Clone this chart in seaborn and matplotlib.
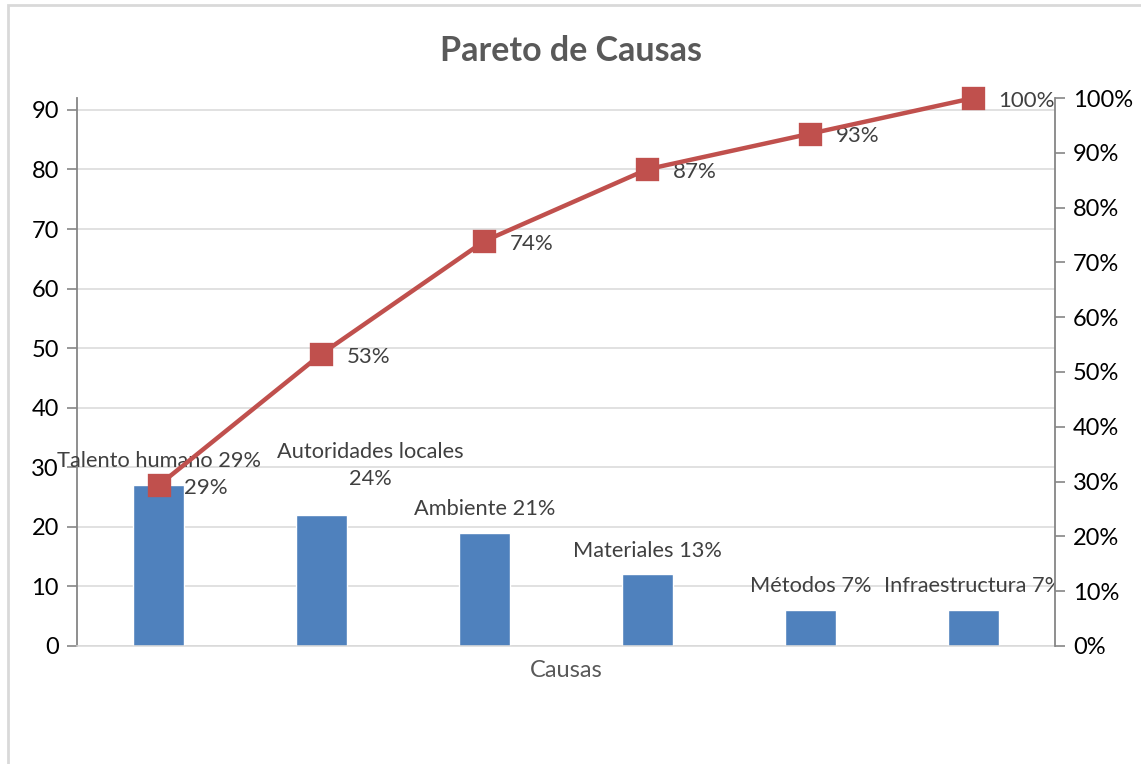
import numpy as np
import pandas as pd
import seaborn as sns
import matplotlib.pyplot as plt
from matplotlib.ticker import FuncFormatter, MultipleLocator
from matplotlib.patches import Rectangle

causas = ['Talento humano', 'Autoridades locales', 'Ambiente', 'Materiales', 'Métodos', 'Infraestructura']
frecuencia = [27, 22, 19, 12, 6, 6]
pct_label = ['29%', '24%', '21%', '13%', '7%', '7%']
acumulado = [29.3, 53.3, 73.9, 87.0, 93.5, 100.0]
acum_label = ['29%', '53%', '74%', '87%', '93%', '100%']

bar_labels = ['Talento humano 29%', 'Autoridades locales\n24%', 'Ambiente 21%',
              'Materiales 13%', 'Métodos 7%', 'Infraestructura 7%']

df = pd.DataFrame({'causa': causas, 'frecuencia': frecuencia, 'acumulado': acumulado})

sns.set_style('white')
plt.rcParams['font.family'] = ['Lato', 'DejaVu Sans']

bar_color = '#4F81BD'
line_color = '#C0504D'
axis_gray = '#868686'
grid_gray = '#D9D9D9'
label_gray = '#404040'

fig = plt.figure(figsize=(11.41, 7.64), dpi=100)
ax = fig.add_axes([0.0675, 0.1545, 0.857, 0.7172])

sns.barplot(data=df, x='causa', y='frecuencia', color=bar_color, width=0.31,
            saturation=1, ax=ax, zorder=2)
ax.set_xlim(-0.5, len(causas) - 0.5)
ax.set_ylim(0, 92)
ax.yaxis.set_major_locator(MultipleLocator(10))
ax.grid(axis='y', color=grid_gray, linewidth=1.1, zorder=0)
ax.set_axisbelow(True)
ax.set_xticks([])
ax.set_ylabel('')
ax.set_xlabel('Causas', fontsize=17, color='#595959', labelpad=10)
for s in ['top', 'right']:
    ax.spines[s].set_visible(False)
ax.spines['left'].set_color(axis_gray)
ax.spines['left'].set_linewidth(1.3)
ax.spines['bottom'].set_color(grid_gray)
ax.spines['bottom'].set_linewidth(1.1)
ax.tick_params(axis='y', direction='out', length=7, width=1.2, color=axis_gray,
               labelsize=17, labelcolor='black', pad=6, left=True)

# clip labels only at the right edge of the plot area (as in the original)
clip_rect = Rectangle((0, 0), ax.get_position().x1, 1, transform=fig.transFigure,
                      visible=False)
fig.patches.append(clip_rect)

offsets = [(0, 10), (35, 19), (0, 10), (0, 10), (0, 10), (0, 10)]
for i, (lab, val) in enumerate(zip(bar_labels, frecuencia)):
    t = ax.annotate(lab, (i, val), xytext=offsets[i], textcoords='offset points',
                    ha='center', va='bottom', fontsize=15.7, color=label_gray,
                    linespacing=1.4, annotation_clip=False)
    t.set_clip_path(clip_rect)

ax2 = ax.twinx()
sns.pointplot(data=df, x='causa', y='acumulado', color=line_color, markers='s',
              markersize=14, linewidth=3.2, ax=ax2, zorder=5)
for ln in ax2.lines:
    ln.set_clip_on(False)
ax2.set_xlim(-0.5, len(causas) - 0.5)
ax2.set_ylim(0, 100)
ax2.yaxis.set_major_locator(MultipleLocator(10))
ax2.yaxis.set_major_formatter(FuncFormatter(lambda v, p: f'{v:.0f}%'))
ax2.set_ylabel('')
ax2.set_xlabel('')
ax2.set_xticks([])
for s in ['top', 'left', 'bottom']:
    ax2.spines[s].set_visible(False)
ax2.spines['right'].set_color(axis_gray)
ax2.spines['right'].set_linewidth(1.3)
ax2.tick_params(axis='y', direction='out', length=7, width=1.2, color=axis_gray,
                labelsize=17, labelcolor='black', pad=6)

for i, (lab, val) in enumerate(zip(acum_label, acumulado)):
    ax2.annotate(lab, (i, val), xytext=(18, -2), textcoords='offset points',
                 ha='left', va='center', fontsize=16, color=label_gray)

fig.text(0.5, 0.933, 'Pareto de Causas', ha='center', va='center',
         fontsize=24.5, fontweight='bold', color='#595959')

# chart frame (left and top edges)
fig.patches.append(Rectangle((8 / 1141, -0.1), 1.2, 1 - 5 / 764 + 0.1,
                             transform=fig.transFigure, fill=False,
                             edgecolor='#D9D9D9', linewidth=2))

fig.savefig('out.png', dpi=100)
